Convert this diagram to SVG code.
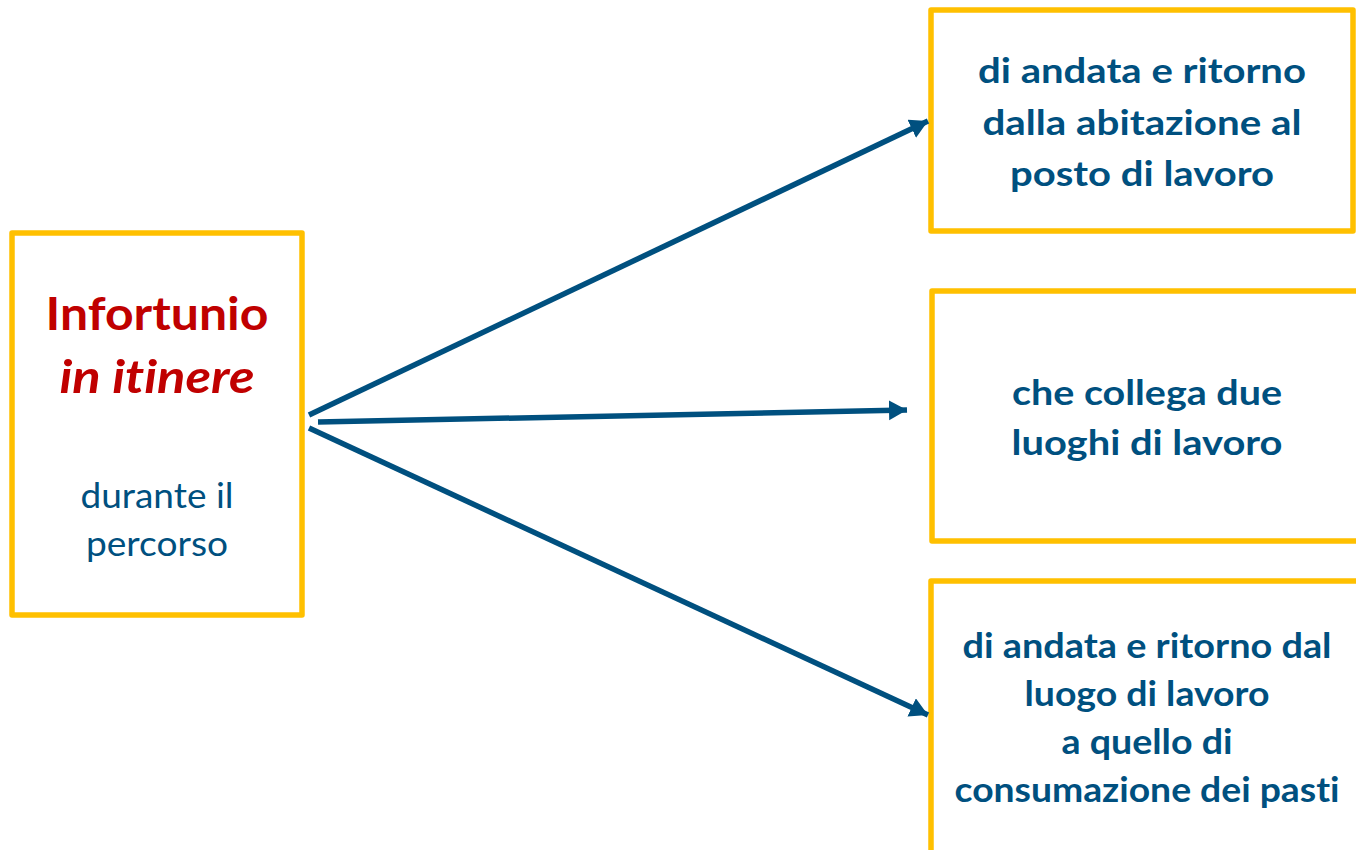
<svg xmlns="http://www.w3.org/2000/svg" width="1356" height="850" viewBox="0 0 1356 850">
<style>
text{font-family:Lato,"Open Sans","Liberation Sans",sans-serif;text-anchor:middle;font-variant-ligatures:none}
.box{fill:#fff;stroke:#FFC000;stroke-width:5.5;stroke-linejoin:round}
.t{font-weight:bold;fill:#00507F;font-size:35px}
.red{font-weight:bold;fill:#C00000;font-size:45px}
.reg{fill:#00507F;font-size:35px}
.c{stroke:#00507F;stroke-width:5.5;fill:none}
</style>
<defs>
<marker id="ah" markerUnits="userSpaceOnUse" markerWidth="20" markerHeight="22" refX="18" refY="10" orient="auto">
<path d="M0,0 L18,10 L0,20 Z" fill="#00507F"/>
</marker>
</defs>
<rect width="1356" height="850" fill="#fff"/>
<g id="source">
<rect class="box" x="12" y="233" width="290" height="382"/>
<text class="red" x="157" y="330" textLength="223" lengthAdjust="spacingAndGlyphs">Infortunio</text>
<text class="red" x="157" y="393" font-style="italic" textLength="195" lengthAdjust="spacingAndGlyphs">in itinere</text>
<text class="reg" x="157" y="508" textLength="153" lengthAdjust="spacingAndGlyphs">durante il</text>
<text class="reg" x="157" y="556" textLength="142" lengthAdjust="spacingAndGlyphs">percorso</text>
</g>
<g id="target1">
<rect class="box" x="931" y="10" width="422" height="221"/>
<text class="t" x="1142" y="83" textLength="328" lengthAdjust="spacingAndGlyphs">di andata e ritorno</text>
<text class="t" x="1142" y="135" textLength="319" lengthAdjust="spacingAndGlyphs">dalla abitazione al</text>
<text class="t" x="1142" y="186" textLength="264" lengthAdjust="spacingAndGlyphs">posto di lavoro</text>
</g>
<g id="target2">
<rect class="box" x="932" y="291" width="440" height="250"/>
<text class="t" x="1147" y="405" textLength="270" lengthAdjust="spacingAndGlyphs">che collega due</text>
<text class="t" x="1147" y="455" textLength="271" lengthAdjust="spacingAndGlyphs">luoghi di lavoro</text>
</g>
<g id="target3">
<rect class="box" x="931" y="581" width="440" height="290"/>
<text class="t" x="1147" y="658" textLength="369" lengthAdjust="spacingAndGlyphs">di andata e ritorno dal</text>
<text class="t" x="1147" y="706" textLength="245" lengthAdjust="spacingAndGlyphs">luogo di lavoro</text>
<text class="t" x="1147" y="754" textLength="171" lengthAdjust="spacingAndGlyphs">a quello di</text>
<text class="t" x="1147" y="802" textLength="385" lengthAdjust="spacingAndGlyphs">consumazione dei pasti</text>
</g>
<g id="connectors">
<line class="c" x1="309" y1="415" x2="928" y2="121" marker-end="url(#ah)"/>
<line class="c" x1="318" y1="422" x2="907" y2="410" marker-end="url(#ah)"/>
<line class="c" x1="309" y1="428" x2="928" y2="715" marker-end="url(#ah)"/>
</g>
</svg>
